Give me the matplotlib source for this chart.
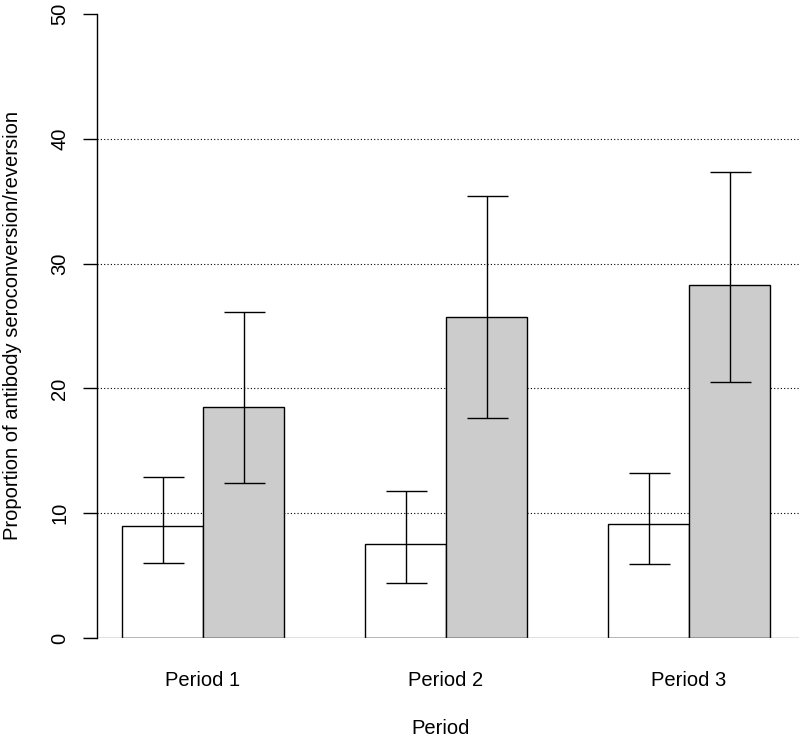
import matplotlib
matplotlib.use("Agg")
import matplotlib.pyplot as plt
import numpy as np

plt.rcParams['font.family'] = ['Liberation Sans', 'DejaVu Sans']

# values
periods = ['Period 1', 'Period 2', 'Period 3']
white_vals = [9.0, 7.5, 9.1]
white_lo = [6.0, 4.4, 5.9]
white_hi = [12.9, 11.8, 13.2]
gray_vals = [18.5, 25.7, 28.3]
gray_lo = [12.4, 17.6, 20.5]
gray_hi = [26.1, 35.4, 37.3]

fs = 14.5

fig = plt.figure(figsize=(7.99, 7.40), dpi=100)
W, H = 799, 740
# axes area in pixels: x 83..799, y 14..638
ax = fig.add_axes([83 / W, 1 - 638 / H, (799 - 83) / W, (638 - 14) / H])

x0 = np.array([1, 4, 7])  # left edge of each group (R barplot style)
xw = x0 + 0.5
xg = x0 + 1.5

ax.bar(xw, white_vals, width=1, color='white', edgecolor='black', linewidth=1, zorder=3)
ax.bar(xg, gray_vals, width=1, color='#cccccc', edgecolor='black', linewidth=1, zorder=3)

cap = 20.5 * 72 / 100
for xs, v, lo, hi in [(xw, white_vals, white_lo, white_hi), (xg, gray_vals, gray_lo, gray_hi)]:
    v = np.array(v)
    err = [v - np.array(lo), np.array(hi) - v]
    ax.errorbar(xs, v, yerr=err, fmt='none', ecolor='black', elinewidth=1,
                capsize=cap, capthick=1, zorder=4)

yaxis_x = (97 - 41) / 81
ax.set_xlim((83 - 41) / 81, (799 - 41) / 81)
ax.set_ylim(0, 50)

# dotted reference lines
for g in [10, 20, 30, 40]:
    ax.plot([yaxis_x, ax.get_xlim()[1]], [g, g], color='black', lw=0.8,
            linestyle=(0, (1, 2)), zorder=1)

# gray baseline
ax.axhline(0, color='#666666', lw=1, zorder=5)

for s in ['top', 'right', 'bottom']:
    ax.spines[s].set_visible(False)
ax.spines['left'].set_position(('data', yaxis_x))
ax.spines['left'].set_linewidth(1)
ax.set_yticks([0, 10, 20, 30, 40, 50])
ax.tick_params(axis='y', length=10, width=1, labelsize=fs, pad=10)
for t in ax.get_yticklabels():
    t.set_rotation(90)
    t.set_va('center')

ax.set_xticks(x0 + 1)
ax.set_xticklabels(periods, fontsize=fs)
ax.tick_params(axis='x', length=0, pad=24)

fig.text(441 / W, 1 - 728 / H, 'Period', fontsize=fs, ha='center', va='center')
fig.text(13 / W, 1 - 326 / H, 'Proportion of antibody seroconversion/reversion',
         fontsize=fs, ha='center', va='center', rotation=90)

fig.savefig('out.png', dpi=100)
